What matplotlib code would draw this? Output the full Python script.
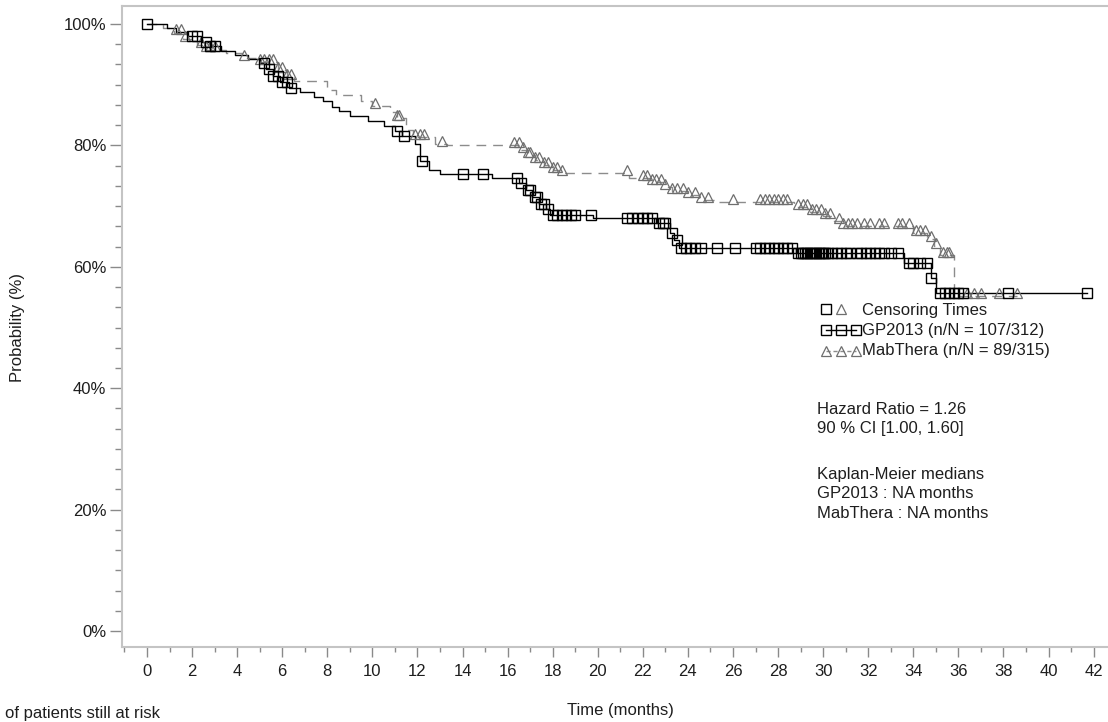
import numpy as np
import matplotlib
matplotlib.use("Agg")
import matplotlib.pyplot as plt
from matplotlib.lines import Line2D
from matplotlib.ticker import MultipleLocator, FuncFormatter

plt.rcParams['font.family'] = ['Liberation Sans', 'DejaVu Sans']

# GP2013: drop times (months) and survival (%) after each drop
gp_times = [0.9, 1.3, 1.8, 2.4, 2.8, 3.3, 3.9, 4.5, 5.0, 5.3, 5.6, 5.9, 6.3,
            6.8, 7.4, 7.8, 8.2, 8.5, 9.0, 9.8, 10.5, 11.0, 11.3, 11.9, 12.1,
            12.5, 13.0, 15.3, 16.5, 16.8, 17.1, 17.4, 17.7, 17.9, 19.8, 22.6,
            23.2, 23.4, 23.6, 28.8, 33.6, 34.8, 35.0]
gp_surv = [99.4, 98.7, 98.0, 97.0, 96.3, 95.6, 94.9, 94.2, 93.6, 92.6, 91.5,
           90.5, 89.5, 88.8, 88.0, 87.3, 86.4, 85.6, 84.8, 84.0, 83.2, 82.4,
           81.5, 80.3, 77.5, 76.0, 75.3, 74.6, 73.8, 72.6, 71.5, 70.4, 69.5,
           68.5, 68.0, 67.2, 65.6, 64.4, 63.1, 62.3, 60.6, 58.2, 55.7]
gp_censor = [0.0, 2.0, 2.2, 2.6, 2.8, 3.0, 5.2, 5.4, 5.6, 5.8, 6.0, 6.2, 6.4,
             11.1, 11.4, 12.2, 14.0, 14.9, 16.4, 16.6, 16.9, 17.0, 17.2, 17.3,
             17.5, 17.6, 17.8, 18.0, 18.2, 18.4, 18.6, 18.8, 19.0, 19.7, 21.3,
             21.5, 21.8, 22.0, 22.2, 22.4, 22.7, 22.9, 23.0, 23.3, 23.5, 23.7,
             23.9, 24.1, 24.3, 24.6, 25.3, 26.1, 27.0, 27.2, 27.4, 27.6, 27.8,
             28.0, 28.2, 28.4, 28.6, 28.9, 29.0, 29.1, 29.2, 29.3, 29.4, 29.5,
             29.6, 29.7, 29.8, 29.9, 30.0, 30.1, 30.2, 30.4, 30.6, 30.8, 31.0,
             31.2, 31.5, 31.7, 31.9, 32.1, 32.3, 32.5, 32.7, 33.0, 33.3, 33.8,
             34.0, 34.3, 34.6, 34.8, 35.2, 35.4, 35.6, 35.8, 36.0, 36.2, 38.2,
             41.7]
gp_end = 41.7

# MabThera
mab_times = [0.7, 1.2, 1.6, 2.2, 2.6, 3.5, 4.2, 5.0, 5.8, 6.2, 6.5, 8.0, 8.4,
             9.5, 10.0, 10.8, 11.1, 11.5, 11.8, 12.8, 13.3, 16.6, 16.9, 17.2,
             17.6, 18.0, 18.3, 21.4, 22.3, 22.9, 23.3, 24.0, 24.5, 25.2, 28.7,
             29.4, 30.0, 30.5, 30.8, 34.0, 34.6, 34.9, 35.2, 35.8]
mab_surv = [99.3, 98.6, 97.6, 96.6, 95.8, 95.2, 94.4, 93.8, 92.5, 91.2, 90.6,
            89.2, 88.3, 87.3, 86.5, 85.5, 84.5, 82.5, 81.4, 80.3, 80.0, 79.2,
            78.4, 77.6, 76.7, 76.0, 75.4, 74.6, 73.9, 73.2, 72.5, 71.8, 71.0,
            70.6, 69.8, 69.0, 68.3, 67.5, 66.7, 65.6, 64.5, 63.5, 62.0, 55.2]
mab_censor = [1.3, 1.5, 1.7, 2.4, 2.6, 2.8, 3.0, 4.3, 5.0, 5.2, 5.4, 5.6, 5.8,
              6.0, 6.2, 6.4, 10.1, 11.1, 11.2, 11.9, 12.1, 12.3, 13.1, 16.3,
              16.5, 16.7, 16.9, 17.0, 17.2, 17.4, 17.6, 17.8, 18.0, 18.2, 18.4,
              21.3, 22.0, 22.2, 22.4, 22.6, 22.8, 23.0, 23.3, 23.5, 23.8, 24.0,
              24.3, 24.6, 24.9, 26.0, 27.2, 27.4, 27.6, 27.8, 28.0, 28.2, 28.4,
              28.9, 29.1, 29.3, 29.5, 29.7, 29.9, 30.1, 30.3, 30.7, 30.9, 31.1,
              31.3, 31.5, 31.8, 32.1, 32.5, 32.7, 33.3, 33.5, 33.8, 34.1, 34.3,
              34.5, 34.8, 35.0, 35.3, 35.5, 35.6, 36.4, 36.7, 37.0, 37.8, 38.6]
mab_end = 38.6

x_ticks = list(range(0, 43, 2))
y_ticks = [0, 20, 40, 60, 80, 100]

W, H = 1108, 722
fig = plt.figure(figsize=(W / 100, H / 100), dpi=100)
ax = fig.add_axes([122 / W, (H - 647) / H, (W - 122) / W, 641 / H])


def px(x, y):
    return x / W, 1 - y / H


def km_curve(times, surv, end):
    t = np.array([0.0] + list(times) + [end])
    s = np.array([100.0] + list(surv) + [surv[-1]])
    return t, s


def censor_y(t, s, c):
    idx = np.searchsorted(t, c, side='right') - 1
    return s[idx]


text_col = '#1e1e1e'
tick_col = '#8a8a8a'
spine_col = '#c4c4c4'
mab_col = '#8c8c8c'

t_gp, s_gp = km_curve(gp_times, gp_surv, gp_end)
t_mab, s_mab = km_curve(mab_times, mab_surv, mab_end)

ax.step(t_mab, s_mab, where='post', color=mab_col, lw=1.0,
        linestyle=(0, (7, 5)))
ax.step(t_gp, s_gp, where='post', color='black', lw=1.0)

c_mab = np.array(mab_censor)
ax.plot(c_mab, censor_y(t_mab, s_mab, c_mab) + 0.5, linestyle='none',
        marker='^', ms=7, mfc='none', mec='#6e6e6e', mew=0.9)
c_gp = np.array(gp_censor)
ax.plot(c_gp, censor_y(t_gp, s_gp, c_gp), linestyle='none',
        marker='s', ms=7, mfc='none', mec='black', mew=1.0)

ax.set_xlim(-1.11, 42.64)
ax.set_ylim(-2.64, 102.97)

ax.xaxis.set_major_locator(MultipleLocator(2))
ax.xaxis.set_minor_locator(MultipleLocator(1))
ax.set_xticks(x_ticks)
ax.yaxis.set_major_locator(MultipleLocator(20))
ax.yaxis.set_minor_locator(MultipleLocator(20 / 6))
ax.set_yticks(y_ticks)
ax.yaxis.set_major_formatter(FuncFormatter(lambda v, p: f"{int(round(v))}%"))

ax.tick_params(axis='x', which='major', length=7.2, width=1, color=tick_col,
               labelsize=12, labelcolor=text_col, pad=5)
ax.tick_params(axis='x', which='minor', length=3.6, width=1, color=tick_col)
ax.tick_params(axis='y', which='major', length=9, width=1, color=tick_col,
               labelsize=12, labelcolor=text_col, pad=2.2)
ax.tick_params(axis='y', which='minor', length=5, width=1, color=tick_col)

for side in ['left', 'bottom', 'top']:
    ax.spines[side].set_color(spine_col)
    ax.spines[side].set_linewidth(1.5)
ax.spines['right'].set_visible(False)

fig.text(*px(18, 327), 'Probability (%)', rotation=90, ha='center',
         va='center', fontsize=12, color=text_col)
fig.text(*px(620, 711), 'Time (months)', ha='center', va='center',
         fontsize=12, color=text_col)
fig.text(*px(5, 721), 'of patients still at risk', ha='left', va='bottom',
         fontsize=12, color=text_col)

# legend block
fig.add_artist(Line2D([px(826, 0)[0]], [px(0, 309)[1]], marker='s', ms=7,
                      mfc='none', mec='black', mew=1.0, linestyle='none'))
fig.add_artist(Line2D([px(841, 0)[0]], [px(0, 309)[1]], marker='^', ms=7,
                      mfc='none', mec='#6e6e6e', mew=0.9, linestyle='none'))
fig.add_artist(Line2D([px(826, 0)[0], px(841, 0)[0], px(856, 0)[0]],
                      [px(0, 330)[1]] * 3, marker='s', ms=7, mfc='none',
                      mec='black', mew=1.0, color='black', lw=1.0))
fig.add_artist(Line2D([px(826, 0)[0], px(841, 0)[0], px(856, 0)[0]],
                      [px(0, 351)[1]] * 3, marker='^', ms=7, mfc='none',
                      mec='#6e6e6e', mew=0.9, color=mab_col, lw=1.0,
                      linestyle=(0, (3, 2))))

legend_lines = [('Censoring Times', 310), ('GP2013 (n/N = 107/312)', 330),
                ('MabThera (n/N = 89/315)', 351)]
for txt, yy in legend_lines:
    fig.text(*px(862, yy), txt, ha='left', va='center', fontsize=12,
             color=text_col)

stats_lines = [('Hazard Ratio = 1.26', 409), ('90 % CI [1.00, 1.60]', 429),
               ('Kaplan-Meier medians', 474), ('GP2013 : NA months', 493),
               ('MabThera : NA months', 513)]
for txt, yy in stats_lines:
    fig.text(*px(817, yy), txt, ha='left', va='center', fontsize=12,
             color=text_col)

fig.savefig('out.png', dpi=100)
